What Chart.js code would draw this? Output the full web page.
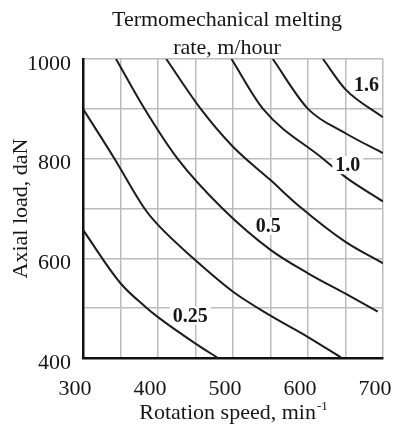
<!DOCTYPE html>
<html>
<head>
<meta charset="utf-8">
<script src="https://cdn.jsdelivr.net/npm/chart.js@4.4.1/dist/chart.umd.min.js"></script>
<style>
  html, body { margin: 0; padding: 0; background: #fff; }
</style>
</head>
<body>
<canvas id="meltChart" width="400" height="429"></canvas>
<script>
// Contour lines of the nomogram: rotation speed (min-1) vs axial load (daN)
const speedA = [300, 350, 383, 400, 450, 480];
const loadA  = [657, 550, 503, 482, 429, 400];
const speedB = [300, 342, 382, 400, 447, 500, 550, 600, 645];
const loadB  = [900, 800, 700, 667, 600, 533, 485, 442, 400];
const speedC = [344, 382, 426, 486, 550, 600, 650, 693];
const loadC  = [1000, 900, 800, 700, 617, 570, 529, 493];
const speedD = [411, 457, 500, 550, 588, 650, 700];
const loadD  = [1000, 900, 824, 757, 705, 633, 590];
const speedE = [498, 540, 620, 650, 700];
const loadE  = [1000, 900, 800, 763, 714];
const speedF = [553, 600, 650, 700];
const loadF  = [1000, 900, 851, 811];
const speedG = [620, 650, 700];
const loadG  = [1000, 939, 883];

// Curve labels (melting rate, m/hour) and where they sit on the chart
const labelText  = ["0.25", "0.5", "1.0", "1.6"];
const labelSpeed = [443, 547, 653, 678];
const labelLoad  = [485, 665, 787, 948];

// Axis tick labels
const speedTicks = [300, 400, 500, 600, 700];
const loadTicks  = [400, 600, 800, 1000];

const titleLines = ["Termomechanical melting", "rate, m/hour"];

const serif = '"Liberation Serif", "Times New Roman", serif';
const ink = "#161616";

function toPoints(xs, ys) {
  return xs.map((x, i) => ({ x: x, y: ys[i] }));
}

const curves = [
  [speedA, loadA], [speedB, loadB], [speedC, loadC], [speedD, loadD],
  [speedE, loadE], [speedF, loadF], [speedG, loadG]
];

const datasets = curves.map(([xs, ys]) => ({
  data: toPoints(xs, ys),
  showLine: true,
  borderColor: "#1c1c1c",
  borderWidth: 2,
  pointRadius: 0,
  cubicInterpolationMode: "monotone",
  fill: false
}));

// Titles, x-axis title with superscript and the curve labels
const textPlugin = {
  id: "nomogramText",
  afterDatasetsDraw(chart) {
    const { ctx, chartArea } = chart;
    const xs = chart.scales.x;
    const ys = chart.scales.y;
    const mid = (chartArea.left + chartArea.right) / 2;
    ctx.save();
    ctx.fillStyle = ink;
    ctx.textBaseline = "middle";

    ctx.textAlign = "center";
    ctx.font = "22px " + serif;
    ctx.fillText(titleLines[0], mid - 6, chartArea.top - 39);
    ctx.fillText(titleLines[1], mid - 6, chartArea.top - 11);

    // x-axis title: "Rotation speed, min" + superscript "-1"
    const main = "Rotation speed, min";
    const sup = "-1";
    ctx.font = "22px " + serif;
    const w1 = ctx.measureText(main).width;
    ctx.font = "13px " + serif;
    const w2 = ctx.measureText(sup).width;
    const start = mid - (w1 + w2) / 2;
    const ty = chartArea.bottom + 55;
    ctx.textAlign = "left";
    ctx.font = "22px " + serif;
    ctx.fillText(main, start, ty);
    ctx.font = "13px " + serif;
    ctx.fillText(sup, start + w1 + 1, ty - 6);

    // curve labels on a white patch
    ctx.textAlign = "center";
    ctx.font = "bold 20px " + serif;
    labelText.forEach((t, i) => {
      const px = xs.getPixelForValue(labelSpeed[i]);
      const py = ys.getPixelForValue(labelLoad[i]);
      const w = ctx.measureText(t).width;
      ctx.fillStyle = "#fff";
      ctx.fillRect(px - w / 2 - 3, py - 9, w + 6, 18);
      ctx.fillStyle = ink;
      ctx.fillText(t, px, py + 1);
    });
    ctx.restore();
  }
};

const ctx = document.getElementById("meltChart").getContext("2d");

new Chart(ctx, {
  type: "scatter",
  data: { datasets },
  options: {
    responsive: false,
    animation: false,
    layout: { padding: { top: 59, right: 0, bottom: 0, left: 0 } },
    plugins: {
      legend: { display: false },
      tooltip: { enabled: false }
    },
    scales: {
      x: {
        type: "linear",
        min: 300,
        max: 700,
        afterFit: (scale) => {
          scale.height = 71;
          scale.paddingLeft = 0;
          scale.paddingRight = 17;
        },
        grid: { color: "#bcbcbc", lineWidth: 1.5, drawTicks: false },
        border: { color: "#111", width: 2.5 },
        ticks: {
          stepSize: 50,
          autoSkip: false,
          maxRotation: 0,
          padding: 18,
          labelOffset: -8,
          color: ink,
          font: { family: serif, size: 22 },
          callback: (v) => speedTicks.includes(v) ? String(v) : ""
        }
      },
      y: {
        type: "linear",
        min: 400,
        max: 1000,
        afterFit: (scale) => { scale.width = 83; },
        grid: { color: "#bcbcbc", lineWidth: 1.5, drawTicks: false },
        border: { color: "#111", width: 2.5 },
        title: {
          display: true,
          text: "Axial load, daN",
          color: ink,
          font: { family: serif, size: 22 },
          padding: { top: 8, bottom: 0 }
        },
        ticks: {
          stepSize: 100,
          autoSkip: false,
          padding: 12,
          labelOffset: 5,
          color: ink,
          font: { family: serif, size: 22 },
          callback: (v) => loadTicks.includes(v) ? String(v) : ""
        }
      }
    }
  },
  plugins: [textPlugin]
});
</script>
</body>
</html>
